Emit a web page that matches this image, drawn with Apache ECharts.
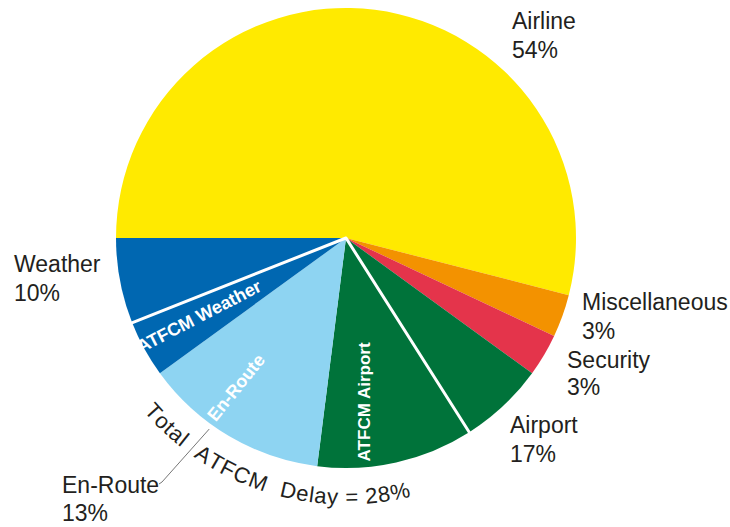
<!DOCTYPE html>
<html><head><meta charset="utf-8">
<script src="https://cdn.jsdelivr.net/npm/echarts@6/dist/echarts.min.js"></script>
<style>html,body{margin:0;padding:0;background:#fff}#c{width:730px;height:527px}</style>
</head><body><div id="c"></div>
<script>
// ---- data ----
const categories = ['Airline', 'Miscellaneous', 'Security', 'Airport', 'En-Route', 'Weather'];
const totalShare = [54, 3, 3, 17, 13, 10];
const atfcmShare = [0, 0, 0, 11, 13, 4];
const atfcmNames = ['', '', '', 'ATFCM Airport', 'En-Route', 'ATFCM Weather'];
const totalWords = ['Total', 'ATFCM', 'Delay'];

// ---- styles / layout ----
const sliceColors = ['#FFEA00', '#F39200', '#E4344B', '#00733A', '#8ED4F2', '#0067B1'];
const CX = 346, CY = 238, R = 230;
const FAM = '"Liberation Sans", Arial, sans-serif';
const TXT = '#231F20';
const outerLabelPos = { // top-left of label block, line height
  'Airline': [512, 6.5, 29], 'Miscellaneous': [582, 287.5, 29], 'Security': [567, 346.5, 27],
  'Airport': [510, 410.5, 29], 'En-Route': [62, 471, 28], 'Weather': [14, 249.5, 29]
};
const innerLabelPos = { // angle (deg, clockwise from +x), radius, rotate, font size
  'ATFCM Airport': [83.4, 165, 90, 17], 'En-Route': [126.3, 185.6, 51, 18], 'ATFCM Weather': [151.9, 166.6, 27.3, 18]
};
function polar(angDeg, r) {
  const a = angDeg * Math.PI / 180;
  return [CX + r * Math.cos(a), CY + r * Math.sin(a)];
}

// ---- build segments ----
const segments = [];
let atfcmSeen = false;
categories.forEach((c, i) => {
  const a = { value: atfcmShare[i], name: atfcmNames[i], cat: i, atfcm: true };
  const o = { value: totalShare[i] - atfcmShare[i], name: c, cat: i, atfcm: false };
  (atfcmSeen ? [a, o] : [o, a]).forEach(s => { if (s.value > 0) segments.push(s); });
  if (atfcmShare[i] > 0) atfcmSeen = true;
});
const atfcmTotal = atfcmShare.reduce((s, v) => s + v, 0);
let before = 0, after = 0, inBlock = false;
segments.forEach(s => {
  if (s.atfcm) { inBlock = true; return; }
  if (inBlock) after += s.value; else before += s.value;
});

const chart = echarts.init(document.getElementById('c'), null, { renderer: 'svg' });

// curved "Total ATFCM Delay = 28%" text
const words = totalWords.slice();
words[2] = words[2] + ' = ' + atfcmTotal + '%';
const ctx = document.createElement('canvas').getContext('2d');
const CFS = 22;
ctx.font = CFS + 'px "Liberation Sans"';
const RT = 259, GAP = 14, LS = 0.5;
let ang = 139.5 * Math.PI / 180;
const graphics = [];
words.forEach((w, wi) => {
  if (wi > 0) ang -= GAP / RT;
  for (const ch of w) {
    const cw = ctx.measureText(ch).width;
    const a = ang - (cw / 2) / RT;
    if (ch !== ' ') {
      graphics.push({
        type: 'text', silent: true,
        x: CX + RT * Math.cos(a), y: CY + RT * Math.sin(a),
        rotation: Math.PI / 2 - a,
        style: { text: ch, fontSize: CFS, fontFamily: FAM, fill: TXT, align: 'center', verticalAlign: 'middle' }
      });
    }
    ang -= (cw + LS) / RT;
  }
});

const option = {
  animation: false,
  graphic: graphics,
  series: [
    {
      type: 'pie', center: [CX, CY], radius: [0, R], startAngle: 180, clockwise: true,
      avoidLabelOverlap: false, silent: true, emphasis: { disabled: true },
      labelLine: { show: false },
      data: segments.map(s => ({
        value: s.value, name: s.name,
        itemStyle: { color: sliceColors[s.cat] },
        label: s.atfcm ? {
          show: true, position: 'inside', formatter: '{b}', rotate: innerLabelPos[s.name][2],
          color: '#fff', fontSize: innerLabelPos[s.name][3], fontWeight: 'bold', fontFamily: FAM
        } : { show: false }
      })),
      labelLayout: function (p) {
        const s = segments[p.dataIndex];
        if (!s || !s.atfcm) return {};
        const ip = innerLabelPos[s.name];
        const xy = polar(ip[0], ip[1]);
        return { x: xy[0], y: xy[1], rotate: ip[2], align: 'center', verticalAlign: 'middle' };
      }
    },
    {
      type: 'pie', center: [CX, CY], radius: [0, R], startAngle: 180, clockwise: true,
      avoidLabelOverlap: false, silent: true, emphasis: { disabled: true },
      itemStyle: { color: 'rgba(0,0,0,0)' },
      label: {
        show: true, position: 'outside', formatter: '{b}\n{c}%',
        fontSize: 23, lineHeight: 29, color: TXT, fontFamily: FAM
      },
      labelLine: { show: false },
      data: categories.map((c, i) => ({
        value: totalShare[i], name: c,
        label: { lineHeight: outerLabelPos[c][2] },
        labelLine: c === 'En-Route' ? { show: true, lineStyle: { color: '#777', width: 1 } } : { show: false }
      })),
      labelLayout: function (p) {
        const name = categories[p.dataIndex];
        const pos = outerLabelPos[name];
        const res = { x: pos[0], y: pos[1], align: 'left', verticalAlign: 'top' };
        if (name === 'En-Route') {
          res.labelLinePoints = [polar(125.6, R + 5), [162, 482], [159, 484]];
        }
        return res;
      }
    },
    {
      type: 'pie', center: [CX, CY], radius: [0, R + 3], startAngle: 180, clockwise: true,
      silent: true, emphasis: { disabled: true }, label: { show: false }, labelLine: { show: false },
      data: [
        { value: before, itemStyle: { color: 'rgba(0,0,0,0)', borderWidth: 0 } },
        { value: atfcmTotal, itemStyle: { color: 'rgba(0,0,0,0)', borderColor: '#fff', borderWidth: 3 } },
        { value: after, itemStyle: { color: 'rgba(0,0,0,0)', borderWidth: 0 } }
      ]
    }
  ]
};
chart.setOption(option);
</script>
</body></html>
